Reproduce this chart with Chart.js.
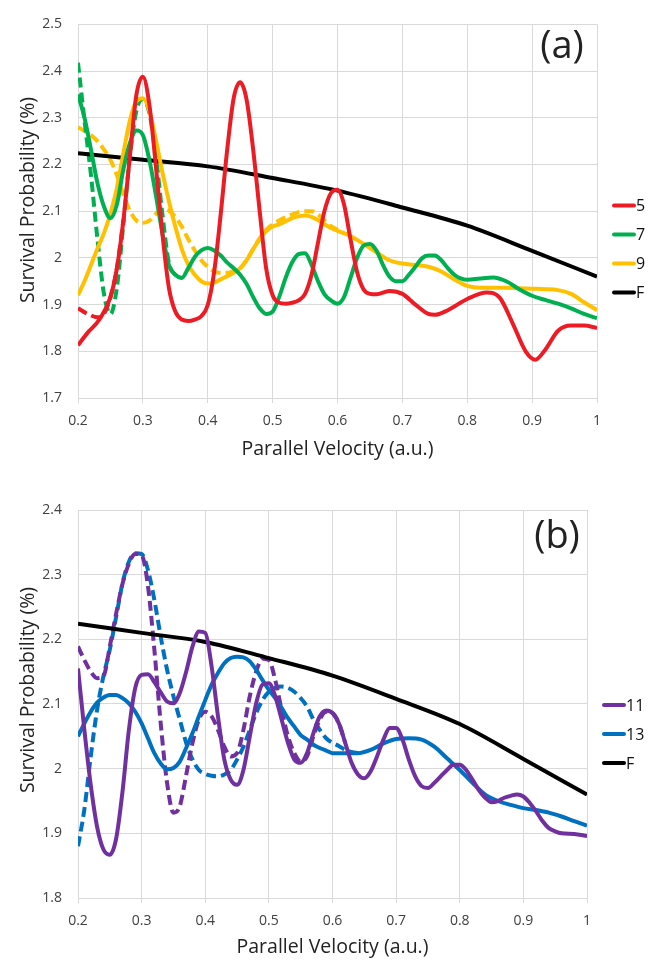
<!DOCTYPE html>
<html>
<head>
<meta charset="utf-8">
<script src="https://cdn.jsdelivr.net/npm/chart.js@4.4.1/dist/chart.umd.min.js"></script>
<style>
    body { margin: 0; background: #fff; }
    .panel { position: absolute; left: 0; width: 658px; }
    #panelA { top: 0; height: 480px; }
    #panelB { top: 480px; height: 482px; }
</style>
</head>
<body>
<div class="panel" id="panelA"><canvas id="chartA" width="658" height="480"></canvas></div>
<div class="panel" id="panelB"><canvas id="chartB" width="658" height="482"></canvas></div>
<script>
// Axis ticks
const xTicks = [0.2, 0.3, 0.4, 0.5, 0.6, 0.7, 0.8, 0.9, 1];
const yTicksA = [1.7, 1.8, 1.9, 2, 2.1, 2.2, 2.3, 2.4, 2.5];
const yTicksB = [1.8, 1.9, 2, 2.1, 2.2, 2.3, 2.4];

// F curve (same in both panels)
const xF = [0.2, 0.3, 0.4, 0.5, 0.6, 0.7, 0.8, 0.9, 1.0];
const yF = [2.224, 2.21, 2.196, 2.171, 2.144, 2.108, 2.069, 2.015, 1.96];

// Panel (a), n = 5
const x5 = [0.2, 0.215, 0.233, 0.25, 0.26, 0.27, 0.28, 0.29, 0.3, 0.31, 0.32, 0.33, 0.34, 0.35, 0.36, 0.37, 0.38, 0.39, 0.4,
    0.41, 0.42, 0.43, 0.44, 0.45, 0.46, 0.47, 0.48, 0.49, 0.5, 0.51, 0.52, 0.53, 0.54, 0.55, 0.56, 0.57, 0.58, 0.59, 0.6,
    0.61, 0.62, 0.63, 0.64, 0.65, 0.66, 0.68, 0.7, 0.72, 0.74, 0.75, 0.77, 0.8, 0.83, 0.85, 0.87, 0.89, 0.905, 0.92, 0.94, 0.96, 0.98, 1.0];
const y5 = [1.813, 1.84, 1.868, 1.916, 1.978, 2.081, 2.218, 2.349, 2.388, 2.328, 2.197, 2.053, 1.937, 1.885, 1.868, 1.865, 1.868, 1.875, 1.899,
    1.971, 2.094, 2.232, 2.342, 2.376, 2.338, 2.232, 2.101, 1.978, 1.92, 1.904, 1.902, 1.904, 1.909, 1.923, 1.964, 2.033, 2.101, 2.139, 2.146,
    2.115, 2.04, 1.971, 1.933, 1.923, 1.922, 1.929, 1.923, 1.9, 1.88, 1.878, 1.888, 1.912, 1.926, 1.915, 1.86, 1.8, 1.782, 1.803, 1.844, 1.855, 1.855, 1.85];
const x5d = [0.2, 0.215, 0.23, 0.24, 0.25, 0.26, 0.27];
const y5d = [1.892, 1.88, 1.873, 1.88, 1.916, 1.978, 2.081];

// Panel (a), n = 7
const x7 = [0.2, 0.21, 0.22, 0.23, 0.24, 0.25, 0.26, 0.27, 0.28, 0.29, 0.3, 0.31, 0.32, 0.33, 0.34, 0.35, 0.36, 0.37, 0.38, 0.39, 0.4,
    0.41, 0.42, 0.43, 0.44, 0.45, 0.46, 0.47, 0.48, 0.49, 0.5, 0.51, 0.52, 0.53, 0.54, 0.55, 0.56, 0.57, 0.58, 0.59, 0.6,
    0.61, 0.62, 0.63, 0.64, 0.65, 0.66, 0.67, 0.68, 0.69, 0.7, 0.71, 0.72, 0.73, 0.74, 0.75, 0.76, 0.77, 0.78, 0.79, 0.8,
    0.82, 0.84, 0.86, 0.88, 0.9, 0.92, 0.94, 0.96, 0.98, 1.0];
const y7 = [2.35, 2.3, 2.232, 2.16, 2.11, 2.085, 2.115, 2.19, 2.246, 2.273, 2.263, 2.21, 2.135, 2.053, 1.985, 1.964, 1.957, 1.978, 2.002, 2.016, 2.021,
    2.016, 2.005, 1.99, 1.978, 1.964, 1.944, 1.916, 1.892, 1.88, 1.885, 1.916, 1.957, 1.99, 2.008, 2.01, 1.985, 1.95, 1.922, 1.909, 1.902,
    1.916, 1.957, 1.999, 2.026, 2.03, 2.016, 1.985, 1.96, 1.95, 1.95, 1.964, 1.981, 1.999, 2.005, 2.005, 1.995, 1.978, 1.964, 1.956, 1.953,
    1.956, 1.958, 1.95, 1.933, 1.919, 1.91, 1.902, 1.892, 1.88, 1.871];
const x7d = [0.2, 0.21, 0.22, 0.23, 0.24, 0.25, 0.26, 0.27, 0.28, 0.29, 0.3, 0.31, 0.32, 0.33, 0.34, 0.35, 0.36];
const y7d = [2.418, 2.294, 2.177, 2.04, 1.923, 1.88, 1.937, 2.074, 2.218, 2.315, 2.34, 2.31, 2.218, 2.095, 1.99, 1.964, 1.957];

// Panel (a), n = 9
const x9 = [0.2, 0.21, 0.22, 0.23, 0.24, 0.25, 0.26, 0.27, 0.28, 0.29, 0.3, 0.31, 0.32, 0.33, 0.34, 0.35, 0.36, 0.37, 0.38, 0.39, 0.4,
    0.41, 0.42, 0.43, 0.44, 0.45, 0.46, 0.47, 0.48, 0.49, 0.5, 0.51, 0.52, 0.53, 0.54, 0.55, 0.56, 0.57, 0.58, 0.59, 0.6,
    0.62, 0.64, 0.66, 0.68, 0.7, 0.72, 0.74, 0.76, 0.78, 0.8, 0.82, 0.84, 0.86, 0.88, 0.9, 0.92, 0.94, 0.96, 0.98, 1.0];
const y9 = [1.92, 1.95, 1.985, 2.02, 2.053, 2.095, 2.15, 2.225, 2.294, 2.335, 2.342, 2.315, 2.253, 2.184, 2.122, 2.067, 2.019, 1.985, 1.964, 1.95, 1.945,
    1.947, 1.954, 1.961, 1.968, 1.978, 1.995, 2.019, 2.04, 2.057, 2.067, 2.072, 2.078, 2.085, 2.089, 2.091, 2.088, 2.081, 2.072, 2.064, 2.058,
    2.047, 2.03, 2.012, 1.995, 1.988, 1.985, 1.981, 1.971, 1.954, 1.94, 1.936, 1.936, 1.936, 1.935, 1.934, 1.933, 1.931, 1.923, 1.905, 1.888];
const x9d = [0.2, 0.21, 0.22, 0.23, 0.24, 0.25, 0.26, 0.27, 0.28, 0.29, 0.3, 0.31, 0.32, 0.33, 0.34, 0.35, 0.36, 0.37, 0.38, 0.39, 0.4,
    0.41, 0.42, 0.43, 0.44, 0.45, 0.46, 0.47, 0.48, 0.49, 0.5, 0.51, 0.52, 0.53, 0.54, 0.55, 0.56, 0.57, 0.58, 0.59, 0.6, 0.61];
const y9d = [2.28, 2.272, 2.263, 2.25, 2.232, 2.21, 2.177, 2.135, 2.101, 2.08, 2.075, 2.08, 2.094, 2.105, 2.101, 2.088, 2.067, 2.04, 2.016, 1.995, 1.981,
    1.971, 1.968, 1.968, 1.972, 1.978, 1.995, 2.019, 2.042, 2.06, 2.072, 2.08, 2.087, 2.093, 2.098, 2.1, 2.1, 2.093, 2.08, 2.068, 2.06, 2.053];

// Panel (b), n = 11
const x11 = [0.2, 0.21, 0.22, 0.23, 0.24, 0.25, 0.26, 0.27, 0.28, 0.29, 0.3, 0.31, 0.32, 0.33, 0.34, 0.35, 0.36, 0.37, 0.38, 0.39, 0.4,
    0.41, 0.42, 0.43, 0.44, 0.45, 0.46, 0.47, 0.48, 0.49, 0.5, 0.51, 0.52, 0.53, 0.54, 0.55, 0.56, 0.57, 0.58, 0.59, 0.6,
    0.61, 0.62, 0.63, 0.64, 0.65, 0.66, 0.67, 0.68, 0.69, 0.7, 0.71, 0.72, 0.73, 0.74, 0.75, 0.76, 0.77, 0.78, 0.79, 0.8,
    0.81, 0.82, 0.83, 0.84, 0.85, 0.86, 0.87, 0.88, 0.89, 0.9, 0.91, 0.92, 0.93, 0.94, 0.95, 0.96, 0.98, 1.0];
const y11 = [2.155, 2.06, 1.975, 1.91, 1.875, 1.867, 1.892, 1.965, 2.06, 2.125, 2.145, 2.146, 2.134, 2.118, 2.104, 2.101, 2.117, 2.15, 2.189, 2.212, 2.21,
    2.158, 2.081, 2.014, 1.983, 1.975, 1.998, 2.05, 2.101, 2.13, 2.132, 2.112, 2.076, 2.04, 2.014, 2.009, 2.024, 2.055, 2.081, 2.09, 2.086,
    2.07, 2.04, 2.009, 1.991, 1.985, 1.996, 2.019, 2.045, 2.063, 2.063, 2.045, 2.014, 1.988, 1.973, 1.97, 1.978, 1.988, 1.998, 2.006, 2.006,
    1.998, 1.983, 1.967, 1.955, 1.948, 1.95, 1.955, 1.958, 1.96, 1.957, 1.947, 1.934, 1.919, 1.908, 1.903, 1.9, 1.899, 1.896];
const x11d = [0.2, 0.21, 0.22, 0.23, 0.24, 0.25, 0.26, 0.27, 0.28, 0.29, 0.3, 0.31, 0.32, 0.33, 0.34, 0.35, 0.36, 0.37, 0.38, 0.39, 0.4,
    0.41, 0.42, 0.43, 0.44, 0.45, 0.46, 0.47, 0.48, 0.49, 0.5, 0.51, 0.52, 0.53, 0.54, 0.55, 0.56, 0.57, 0.58, 0.59, 0.6, 0.61, 0.62];
const y11d = [2.189, 2.168, 2.15, 2.14, 2.143, 2.189, 2.24, 2.286, 2.317, 2.332, 2.33, 2.282, 2.184, 2.07, 1.978, 1.932, 1.942, 1.99, 2.04, 2.076, 2.088,
    2.081, 2.06, 2.034, 2.019, 2.024, 2.06, 2.112, 2.15, 2.17, 2.168, 2.137, 2.091, 2.05, 2.024, 2.011, 2.019, 2.05, 2.076, 2.088, 2.086, 2.07, 2.04];

// Panel (b), n = 13
const x13 = [0.2, 0.21, 0.22, 0.23, 0.24, 0.25, 0.26, 0.27, 0.28, 0.29, 0.3, 0.31, 0.32, 0.33, 0.34, 0.35, 0.36, 0.37, 0.38, 0.39, 0.4,
    0.41, 0.42, 0.43, 0.44, 0.45, 0.46, 0.47, 0.48, 0.49, 0.5, 0.51, 0.52, 0.53, 0.54, 0.55, 0.56, 0.57, 0.58, 0.59, 0.6,
    0.62, 0.64, 0.66, 0.68, 0.7, 0.72, 0.74, 0.76, 0.78, 0.8, 0.82, 0.84, 0.86, 0.88, 0.9, 0.92, 0.94, 0.96, 0.98, 1.0];
const y13 = [2.05, 2.07, 2.088, 2.102, 2.11, 2.114, 2.114, 2.109, 2.101, 2.088, 2.07, 2.047, 2.024, 2.008, 1.999, 2.001, 2.011, 2.032, 2.055, 2.081, 2.106,
    2.13, 2.148, 2.163, 2.171, 2.173, 2.172, 2.166, 2.153, 2.137, 2.122, 2.109, 2.094, 2.078, 2.065, 2.052, 2.045, 2.037, 2.032, 2.028, 2.024,
    2.024, 2.024, 2.029, 2.039, 2.046, 2.047, 2.045, 2.034, 2.016, 1.998, 1.978, 1.96, 1.95, 1.944, 1.939, 1.936, 1.932, 1.926, 1.919, 1.912];
const x13d = [0.2, 0.21, 0.22, 0.23, 0.24, 0.25, 0.26, 0.27, 0.28, 0.29, 0.3, 0.31, 0.32, 0.33, 0.34, 0.35, 0.36, 0.37, 0.38, 0.39, 0.4,
    0.41, 0.42, 0.43, 0.44, 0.45, 0.46, 0.47, 0.48, 0.49, 0.5, 0.51, 0.52, 0.53, 0.54, 0.55, 0.56, 0.57, 0.58, 0.59, 0.6, 0.61, 0.62, 0.63, 0.64];
const y13d = [1.88, 1.937, 2.019, 2.091, 2.143, 2.184, 2.235, 2.287, 2.32, 2.333, 2.332, 2.307, 2.261, 2.204, 2.153, 2.112, 2.076, 2.04, 2.014, 1.998, 1.992,
    1.989, 1.988, 1.991, 1.998, 2.014, 2.034, 2.06, 2.086, 2.106, 2.119, 2.125, 2.127, 2.125, 2.119, 2.109, 2.096, 2.076, 2.06, 2.047, 2.04,
    2.035, 2.029, 2.026, 2.024];

const RED = '#ED1C24', GREEN = '#00B050', YELLOW = '#FFC000', BLACK = '#000000', PURPLE = '#7030A0', BLUE = '#0070C0';
const FONT = '"Open Sans", "Noto Sans", sans-serif';
const Y_TITLE = 'Survival Probability (%)';

Chart.defaults.font.family = FONT;
Chart.defaults.color = '#404040';

function pts(xs, ys) {
    return xs.map((x, i) => ({ x: x, y: ys[i] }));
}

function line(label, xs, ys, color, dashed) {
    return {
        label: label,
        data: pts(xs, ys),
        borderColor: color,
        borderWidth: 4,
        borderDash: dashed ? [10, 5] : [],
        pointRadius: 0,
        cubicInterpolationMode: 'monotone',
        fill: false,
        inLegend: !dashed
    };
}

// right-side legend, panel tag and the y axis title
const sideLegend = {
    id: 'sideLegend',
    afterDatasetsDraw(chart, args, opts) {
        const { ctx, chartArea } = chart;
        ctx.save();
        const items = chart.data.datasets.filter(d => d.inLegend);
        items.forEach((d, i) => {
            const y = chartArea.top + opts.top + i * 29;
            const x = chartArea.right + 17;
            ctx.strokeStyle = d.borderColor;
            ctx.lineWidth = 4;
            ctx.lineCap = 'round';
            ctx.setLineDash([]);
            ctx.beginPath();
            ctx.moveTo(x, y);
            ctx.lineTo(x + 20, y);
            ctx.stroke();
            ctx.fillStyle = '#111';
            ctx.font = '16px ' + FONT;
            ctx.textAlign = 'left';
            ctx.textBaseline = 'middle';
            ctx.fillText(d.label, x + 22, y + 1);
        });
        ctx.font = '38px ' + FONT;
        ctx.fillStyle = '#222';
        ctx.textAlign = 'center';
        ctx.textBaseline = 'middle';
        ctx.fillText(opts.tag, chartArea.right - opts.tagDx, chartArea.top + opts.tagDy);

        ctx.translate(28, opts.yTitleY);
        ctx.rotate(-Math.PI / 2);
        ctx.font = '19.5px ' + FONT;
        ctx.fillStyle = '#222';
        ctx.fillText(Y_TITLE, 0, 0);
        ctx.restore();
    }
};

function makeOptions(yTicks, topPad, rightPad, xHeight, titlePad, legendTop, tag, tagDx, tagDy, yTitleY) {
    return {
        responsive: false,
        animation: false,
        layout: { padding: { top: topPad, right: rightPad, left: 0, bottom: 0 } },
        plugins: {
            legend: { display: false },
            tooltip: { enabled: false },
            sideLegend: { top: legendTop, tag: tag, tagDx: tagDx, tagDy: tagDy, yTitleY: yTitleY }
        },
        scales: {
            x: {
                type: 'linear',
                min: 0.2,
                max: 1,
                afterBuildTicks: scale => { scale.ticks = xTicks.map(v => ({ value: v })); },
                afterFit: scale => { scale.height = xHeight; },
                grid: { color: '#d9d9d9', lineWidth: 1, tickLength: 5 },
                border: { color: '#d9d9d9' },
                ticks: {
                    padding: 10,
                    font: { size: 14 },
                    maxRotation: 0,
                    callback: v => String(Math.round(v * 10) / 10)
                },
                title: {
                    display: true,
                    text: 'Parallel Velocity (a.u.)',
                    font: { size: 19.5 },
                    color: '#222',
                    padding: { top: 0, bottom: titlePad }
                }
            },
            y: {
                min: yTicks[0],
                max: yTicks[yTicks.length - 1],
                afterBuildTicks: scale => { scale.ticks = yTicks.map(v => ({ value: v })); },
                afterFit: scale => { scale.width = 78; },
                grid: { color: '#d9d9d9', lineWidth: 1, drawTicks: false },
                border: { color: '#d9d9d9' },
                ticks: {
                    padding: 16,
                    font: { size: 14 },
                    callback: v => String(Math.round(v * 10) / 10)
                },
                title: { display: false }
            }
        }
    };
}

new Chart(document.getElementById('chartA'), {
    type: 'line',
    data: {
        datasets: [
            line('5', x5, y5, RED, false),
            line('7', x7, y7, GREEN, false),
            line('9', x9, y9, YELLOW, false),
            line('F', xF, yF, BLACK, false),
            line('5d', x5d, y5d, RED, true),
            line('7d', x7d, y7d, GREEN, true),
            line('9d', x9d, y9d, YELLOW, true)
        ]
    },
    options: makeOptions(yTicksA, 10, 61, 82, 19, 181, '(a)', 35, 23, 200),
    plugins: [sideLegend]
});

new Chart(document.getElementById('chartB'), {
    type: 'line',
    data: {
        datasets: [
            line('11', x11, y11, PURPLE, false),
            line('13', x13, y13, BLUE, false),
            line('F', xF, yF, BLACK, false),
            line('11d', x11d, y11d, PURPLE, true),
            line('13d', x13d, y13d, BLUE, true)
        ]
    },
    options: makeOptions(yTicksB, 30, 71, 64, 3, 195, '(b)', 30, 27, 210),
    plugins: [sideLegend]
});
</script>
</body>
</html>
